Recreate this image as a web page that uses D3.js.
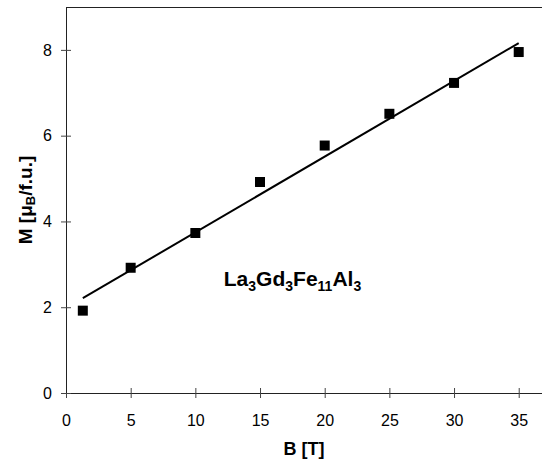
<!DOCTYPE html>
<html>
<head>
<meta charset="utf-8">
<script src="https://cdn.jsdelivr.net/npm/d3@7"></script>
<style>
    body { margin: 0; background: #fff; }
    svg { display: block; font-family: "Liberation Sans", Arial, sans-serif; }
</style>
</head>
<body>
<div id="chart"></div>
<script>
// measured points
let fieldB = [1.3, 5, 10, 15, 20, 25, 30, 35],
    moment = [1.92, 2.92, 3.73, 4.92, 5.77, 6.51, 7.23, 7.95];

// linear fit, drawn between its two end points
let fitB = [1.3, 35],
    fitM = [2.21, 8.16];

let xTicks = [0, 5, 10, 15, 20, 25, 30, 35],
    yTicks = [0, 2, 4, 6, 8];

let width = 542,
    height = 464,
    margin = { top: 7, right: 0, bottom: 71, left: 66 };

let svg = d3.select('#chart')
    .append('svg')
    .attr('width', width)
    .attr('height', height);

let scaleX = d3.scaleLinear()
    .domain([0, 36.8])
    .range([margin.left, width - margin.right]);

let scaleY = d3.scaleLinear()
    .domain([0, 9])
    .range([height - margin.bottom, margin.top]);

// frame top line
svg.append('line')
    .attr('x1', margin.left)
    .attr('x2', width)
    .attr('y1', margin.top + 0.5)
    .attr('y2', margin.top + 0.5)
    .attr('stroke', '#222');

// axes
let xAxis = d3.axisBottom(scaleX)
    .tickValues(xTicks)
    .tickSize(5)
    .tickPadding(17)
    .tickSizeOuter(0);

let yAxis = d3.axisLeft(scaleY)
    .tickValues(yTicks)
    .tickSize(5)
    .tickPadding(9)
    .tickSizeOuter(0);

let gx = svg.append('g')
    .attr('transform', 'translate(0,' + (height - margin.bottom) + ')')
    .call(xAxis);
gx.selectAll('.tick line').attr('y1', -5).attr('y2', 5);

let gy = svg.append('g')
    .attr('transform', 'translate(' + margin.left + ',0)')
    .call(yAxis);
gy.selectAll('.tick line').attr('x1', 5).attr('x2', -5);

svg.selectAll('.domain').attr('stroke', '#222');
svg.selectAll('.tick line').attr('stroke', '#444');
svg.selectAll('.tick text')
    .attr('font-size', 16)
    .attr('font-family', '"Liberation Sans", Arial, sans-serif')
    .attr('fill', '#000');

// axis titles
svg.append('text')
    .attr('x', (margin.left + width) / 2)
    .attr('y', 455)
    .attr('text-anchor', 'middle')
    .attr('font-size', 18)
    .attr('font-weight', 'bold')
    .text('B [T]');

let yTitle = svg.append('text')
    .attr('transform', 'translate(32,' + scaleY(4.5) + ') rotate(-90)')
    .attr('text-anchor', 'middle')
    .attr('font-size', 19)
    .attr('font-weight', 'bold');
yTitle.append('tspan').text('M [μ');
yTitle.append('tspan').attr('font-size', 13).attr('dy', 3).text('B');
yTitle.append('tspan').attr('dy', -3).text('/f.u.]');

// fit line
let line = d3.line()
    .x(function(d) { return scaleX(d[0]); })
    .y(function(d) { return scaleY(d[1]); });

svg.append('path')
    .datum(d3.zip(fitB, fitM))
    .attr('d', line)
    .attr('fill', 'none')
    .attr('stroke', '#000')
    .attr('stroke-width', 2);

// data squares
svg.append('g')
    .selectAll('path')
    .data(d3.zip(fieldB, moment))
    .enter()
    .append('path')
    .attr('transform', function(d) { return 'translate(' + scaleX(d[0]) + ',' + scaleY(d[1]) + ')'; })
    .attr('d', d3.symbol(d3.symbolSquare, 100))
    .attr('fill', '#000');

// compound label
let label = svg.append('text')
    .attr('x', scaleX(12.2))
    .attr('y', scaleY(2.5))
    .attr('font-size', 21)
    .attr('font-weight', 'bold');
[['La', '3'], ['Gd', '3'], ['Fe', '11'], ['Al', '3']].forEach(function(p, i) {
    label.append('tspan').attr('dy', i == 0 ? 0 : -5).text(p[0]);
    label.append('tspan').attr('font-size', 14).attr('dy', 5).text(p[1]);
});
</script>
</body>
</html>
